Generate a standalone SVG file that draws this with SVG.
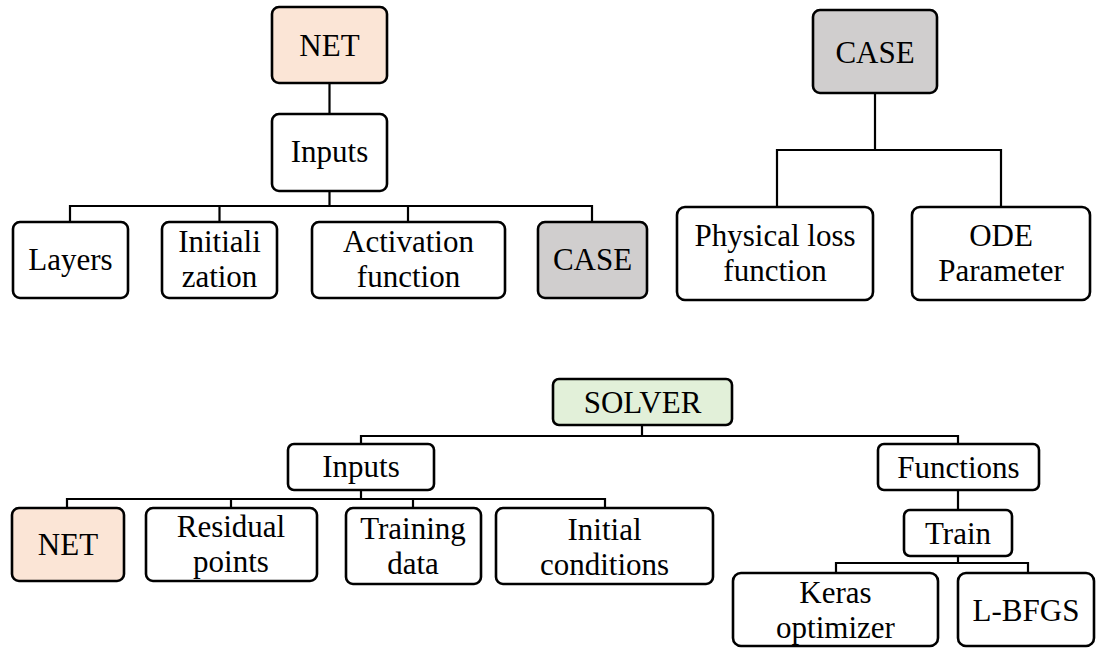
<svg xmlns="http://www.w3.org/2000/svg" width="1096" height="648" viewBox="0 0 1096 648">
  <style>
    .box { fill: #ffffff; stroke: #000000; stroke-width: 2.6; }
    .net { fill: #fbe5d6; }
    .case { fill: #d0cece; }
    .solver { fill: #e2f0d9; }
    .wire { fill: none; stroke: #000000; stroke-width: 2.2; stroke-linecap: square; }
    text { font-family: "Liberation Serif", "Times New Roman", serif; font-size: 31px; fill: #000000; text-anchor: middle; }
  </style>
  <rect width="1096" height="648" fill="#ffffff"/>

  <!-- tree connectors -->
  <g id="connectors">
    <!-- NET tree -->
    <path class="wire" d="M329.5 83 V114 M329.5 191 V206 M70 206 H592 M70 206 V222 M219.5 206 V222 M408 206 V222 M592 206 V222"/>
    <!-- CASE tree -->
    <path class="wire" d="M875 93 V150 M777 150 H1001 M777 150 V207 M1001 150 V207"/>
    <!-- SOLVER tree -->
    <path class="wire" d="M642 425 V436 M361 436 H958 M361 436 V444 M958 436 V444"/>
    <path class="wire" d="M361 490 V499 M67 499 H605 M67 499 V508 M231 499 V508 M413 499 V508 M605 499 V508"/>
    <path class="wire" d="M958 490 V510 M958 556 V563 M836 563 H1028 M836 563 V573 M1028 563 V573"/>
  </g>

  <!-- NET tree -->
  <g id="net-root">
    <rect class="box net" x="272" y="7" width="115" height="76" rx="7"/>
    <text x="329.5" y="56">NET</text>
  </g>
  <g id="net-inputs">
    <rect class="box" x="272" y="114" width="115" height="77" rx="7"/>
    <text x="329.5" y="162">Inputs</text>
  </g>
  <g id="net-layers">
    <rect class="box" x="13" y="222" width="115" height="76" rx="7"/>
    <text x="70.5" y="270">Layers</text>
  </g>
  <g id="net-initialization">
    <rect class="box" x="162" y="222" width="115" height="76" rx="7"/>
    <text x="219.5" y="252">Initiali</text>
    <text x="219.5" y="287">zation</text>
  </g>
  <g id="net-activation">
    <rect class="box" x="312" y="222" width="193" height="76" rx="7"/>
    <text x="408.5" y="252">Activation</text>
    <text x="408.5" y="287">function</text>
  </g>
  <g id="net-case">
    <rect class="box case" x="538" y="222" width="109" height="76" rx="7"/>
    <text x="592.5" y="270">CASE</text>
  </g>

  <!-- CASE tree -->
  <g id="case-root">
    <rect class="box case" x="813" y="10" width="124" height="83" rx="7"/>
    <text x="875" y="63">CASE</text>
  </g>
  <g id="case-loss">
    <rect class="box" x="677" y="207" width="196" height="93" rx="8"/>
    <text x="775" y="246">Physical loss</text>
    <text x="775" y="281">function</text>
  </g>
  <g id="case-ode">
    <rect class="box" x="912" y="207" width="178" height="93" rx="8"/>
    <text x="1001" y="246">ODE</text>
    <text x="1001" y="281">Parameter</text>
  </g>

  <!-- SOLVER tree -->
  <g id="solver-root">
    <rect class="box solver" x="553" y="379" width="179" height="46" rx="6"/>
    <text x="642.5" y="413">SOLVER</text>
  </g>
  <g id="solver-inputs">
    <rect class="box" x="288" y="444" width="146" height="46" rx="6"/>
    <text x="361" y="477">Inputs</text>
  </g>
  <g id="solver-net">
    <rect class="box net" x="12" y="508" width="112" height="73" rx="7"/>
    <text x="68" y="555">NET</text>
  </g>
  <g id="solver-residual">
    <rect class="box" x="146" y="508" width="171" height="73" rx="7"/>
    <text x="231" y="537">Residual</text>
    <text x="231" y="572">points</text>
  </g>
  <g id="solver-training">
    <rect class="box" x="346" y="508" width="135" height="76" rx="7"/>
    <text x="413" y="539">Training</text>
    <text x="413" y="574">data</text>
  </g>
  <g id="solver-initial">
    <rect class="box" x="496" y="508" width="217" height="76" rx="7"/>
    <text x="604.5" y="540">Initial</text>
    <text x="604.5" y="575">conditions</text>
  </g>
  <g id="solver-functions">
    <rect class="box" x="878" y="444" width="161" height="46" rx="6"/>
    <text x="958.5" y="478">Functions</text>
  </g>
  <g id="solver-train">
    <rect class="box" x="904" y="510" width="108" height="46" rx="6"/>
    <text x="958" y="544">Train</text>
  </g>
  <g id="solver-keras">
    <rect class="box" x="733" y="573" width="205" height="73" rx="8"/>
    <text x="835.5" y="603">Keras</text>
    <text x="835.5" y="638">optimizer</text>
  </g>
  <g id="solver-lbfgs">
    <rect class="box" x="958" y="573" width="136" height="73" rx="8"/>
    <text x="1026" y="621">L-BFGS</text>
  </g>
</svg>
